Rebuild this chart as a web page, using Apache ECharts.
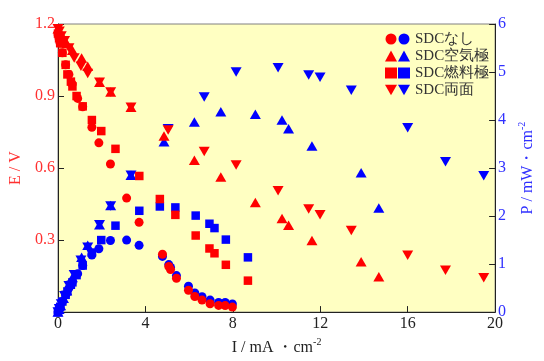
<!DOCTYPE html>
<html><head><meta charset="utf-8">
<script src="https://cdn.jsdelivr.net/npm/echarts@6/dist/echarts.min.js"></script>
<style>html,body{margin:0;padding:0;background:#fff}#c{width:544px;height:361px}</style>
</head><body><div id="c"></div>
<script>
// SDCなし (circles)
const I_none = [0, 0.05, 0.1, 0.2, 0.35, 0.5, 0.65, 0.9, 1.13, 1.55, 1.87, 2.40, 3.14, 3.71, 4.78, 5.07, 5.15, 5.42, 5.97, 6.26, 6.59, 6.96, 7.35, 7.65, 7.98];
const E_none = [1.16, 1.14, 1.12, 1.08, 1.03, 0.99, 0.95, 0.89, 0.855, 0.77, 0.705, 0.617, 0.475, 0.374, 0.241, 0.19, 0.177, 0.141, 0.091, 0.065, 0.05, 0.035, 0.028, 0.027, 0.021];
const P_none = [0, 0.06, 0.11, 0.22, 0.36, 0.50, 0.62, 0.80, 0.97, 1.19, 1.32, 1.49, 1.50, 1.39, 1.16, 0.99, 0.93, 0.76, 0.54, 0.40, 0.32, 0.25, 0.20, 0.20, 0.17];
// SDC空気極 (up triangles)
const I_air = [0, 0.05, 0.12, 0.25, 0.4, 0.66, 1.08, 1.36, 1.90, 2.41, 3.34, 4.85, 6.24, 7.45, 9.03, 10.25, 10.55, 11.62, 13.87, 14.68];
const E_air = [1.18, 1.17, 1.16, 1.14, 1.12, 1.091, 1.058, 1.024, 0.957, 0.917, 0.853, 0.734, 0.632, 0.563, 0.457, 0.39, 0.362, 0.298, 0.21, 0.147];
const P_air = [0, 0.06, 0.14, 0.29, 0.45, 0.72, 1.14, 1.39, 1.82, 2.22, 2.85, 3.55, 3.96, 4.17, 4.12, 4.0, 3.82, 3.46, 2.90, 2.17];
// SDC燃料極 (squares)
const I_fuel = [0, 0.05, 0.1, 0.2, 0.35, 0.43, 0.59, 0.66, 0.85, 1.13, 1.55, 1.98, 2.63, 3.72, 4.66, 5.37, 6.30, 6.93, 7.16, 7.68, 8.69];
const E_fuel = [1.16, 1.14, 1.12, 1.08, 1.03, 0.99, 0.96, 0.94, 0.90, 0.857, 0.80, 0.754, 0.680, 0.567, 0.471, 0.405, 0.319, 0.265, 0.245, 0.197, 0.131];
const P_fuel = [0, 0.06, 0.11, 0.22, 0.36, 0.43, 0.57, 0.62, 0.77, 0.97, 1.24, 1.50, 1.80, 2.11, 2.20, 2.18, 2.01, 1.84, 1.75, 1.51, 1.14];
// SDC両面 (down triangles)
const I_both = [0, 0.06, 0.15, 0.3, 0.5, 0.74, 1.05, 1.36, 1.90, 2.41, 3.34, 5.04, 6.69, 8.15, 10.07, 11.47, 11.99, 13.42, 16.0, 17.73, 19.48];
const E_both = [1.18, 1.17, 1.15, 1.13, 1.10, 1.058, 1.024, 0.994, 0.957, 0.917, 0.853, 0.758, 0.669, 0.613, 0.505, 0.429, 0.405, 0.34, 0.237, 0.174, 0.143];
const P_both = [0, 0.07, 0.17, 0.34, 0.55, 0.78, 1.08, 1.35, 1.82, 2.21, 2.85, 3.82, 4.48, 5.0, 5.09, 4.94, 4.89, 4.62, 3.84, 3.13, 2.84];

const names = ['SDCなし', 'SDC空気極', 'SDC燃料極', 'SDC両面'];
const xTicks = [0, 4, 8, 12, 16, 20];
const eTicks = [0, 0.3, 0.6, 0.9, 1.2];
const pTicks = [0, 1, 2, 3, 4, 5, 6];

const RED = '#ff0000', BLUE = '#0000ff';
const FONT = 'Liberation Serif';
const downTri = 'path://M0,0L20,0L10,17.3Z';
const syms = ['circle', 'triangle', 'rect', downTri];
const sizes = [9, [11, 9.5], 8.5, [11, 9.5]];
const Is = [I_none, I_air, I_fuel, I_both];
const Es = [E_none, E_air, E_fuel, E_both];
const Ps = [P_none, P_air, P_fuel, P_both];
const zip = (a, b) => a.map((v, i) => [v, b[i]]);

const series = [];
for (let k = 0; k < 4; k++) {
  series.push({
    name: names[k], type: 'scatter', yAxisIndex: 1, symbol: syms[k], symbolSize: sizes[k],
    itemStyle: { color: BLUE, opacity: 1 }, data: zip(Is[k], Ps[k]), z: 2, animation: false
  });
}
for (let k = 0; k < 4; k++) {
  series.push({
    name: 'E ' + names[k], type: 'scatter', yAxisIndex: 0, symbol: syms[k], symbolSize: sizes[k],
    itemStyle: { color: RED, opacity: 1 }, data: zip(Is[k], Es[k]), z: 3, animation: false
  });
}

const supRich = (c) => ({
  n: { fontFamily: FONT, fontSize: 16, lineHeight: 22, color: c },
  sup: { fontFamily: FONT, fontSize: 10, lineHeight: 10, verticalAlign: 'top', color: c }
});

const chart = echarts.init(document.getElementById('c'), null, { renderer: 'canvas' });
chart.setOption({
  animation: false,
  backgroundColor: '#ffffff',
  grid: { left: 58, right: 37, top: 24, bottom: 38, show: true, backgroundColor: '#ffffc2', borderColor: '#808080', borderWidth: 1 },
  legend: [
    { data: names.map(n => 'E ' + n), orient: 'vertical', left: 380, top: 26, itemWidth: 12, itemHeight: 11, itemGap: 1,
      selectedMode: false, formatter: () => ' ', textStyle: { fontFamily: FONT, fontSize: 15, lineHeight: 16 } },
    { data: names, orient: 'vertical', left: 393, top: 26, itemWidth: 12, itemHeight: 11, itemGap: 1,
      selectedMode: false, textStyle: { fontFamily: FONT, fontSize: 15, lineHeight: 16, color: '#333' } }
  ],
  xAxis: {
    type: 'value', min: xTicks[0], max: xTicks[xTicks.length - 1], interval: 4,
    name: '{n|I / mA ・cm}{sup|-2}', nameLocation: 'middle', nameGap: 18,
    nameTextStyle: { fontFamily: FONT, fontSize: 16, color: '#222', rich: supRich('#222') },
    axisLine: { lineStyle: { color: '#222' } },
    axisTick: { inside: true, length: 6, lineStyle: { color: '#222' } },
    axisLabel: { fontFamily: FONT, fontSize: 16, color: '#222', margin: 4 },
    splitLine: { show: false }
  },
  yAxis: [
    { type: 'value', min: eTicks[0], max: eTicks[eTicks.length - 1], interval: 0.3, position: 'left',
      name: 'E / V', nameLocation: 'middle', nameGap: 28, nameRotate: 90,
      nameTextStyle: { fontFamily: FONT, fontSize: 16, color: '#ff3030' },
      axisLine: { show: true, lineStyle: { color: '#222' } },
      axisTick: { inside: true, length: 6, lineStyle: { color: '#222' } },
      axisLabel: { fontFamily: FONT, fontSize: 16, color: '#ff3030', margin: 3, showMinLabel: false, formatter: v => v.toFixed(1) },
      splitLine: { show: false } },
    { type: 'value', min: pTicks[0], max: pTicks[pTicks.length - 1], interval: 1, position: 'right',
      name: '{n|P / mW・cm}{sup|-2}', nameLocation: 'middle', nameGap: 20, nameRotate: 90,
      nameTextStyle: { fontFamily: FONT, fontSize: 16, color: '#3030ff', rich: supRich('#3030ff') },
      axisLine: { show: true, lineStyle: { color: '#222' } },
      axisTick: { inside: true, length: 6, lineStyle: { color: '#222' } },
      axisLabel: { fontFamily: FONT, fontSize: 16, color: '#3030ff', margin: 3 },
      splitLine: { show: false } }
  ],
  series: series
});
</script></body></html>
